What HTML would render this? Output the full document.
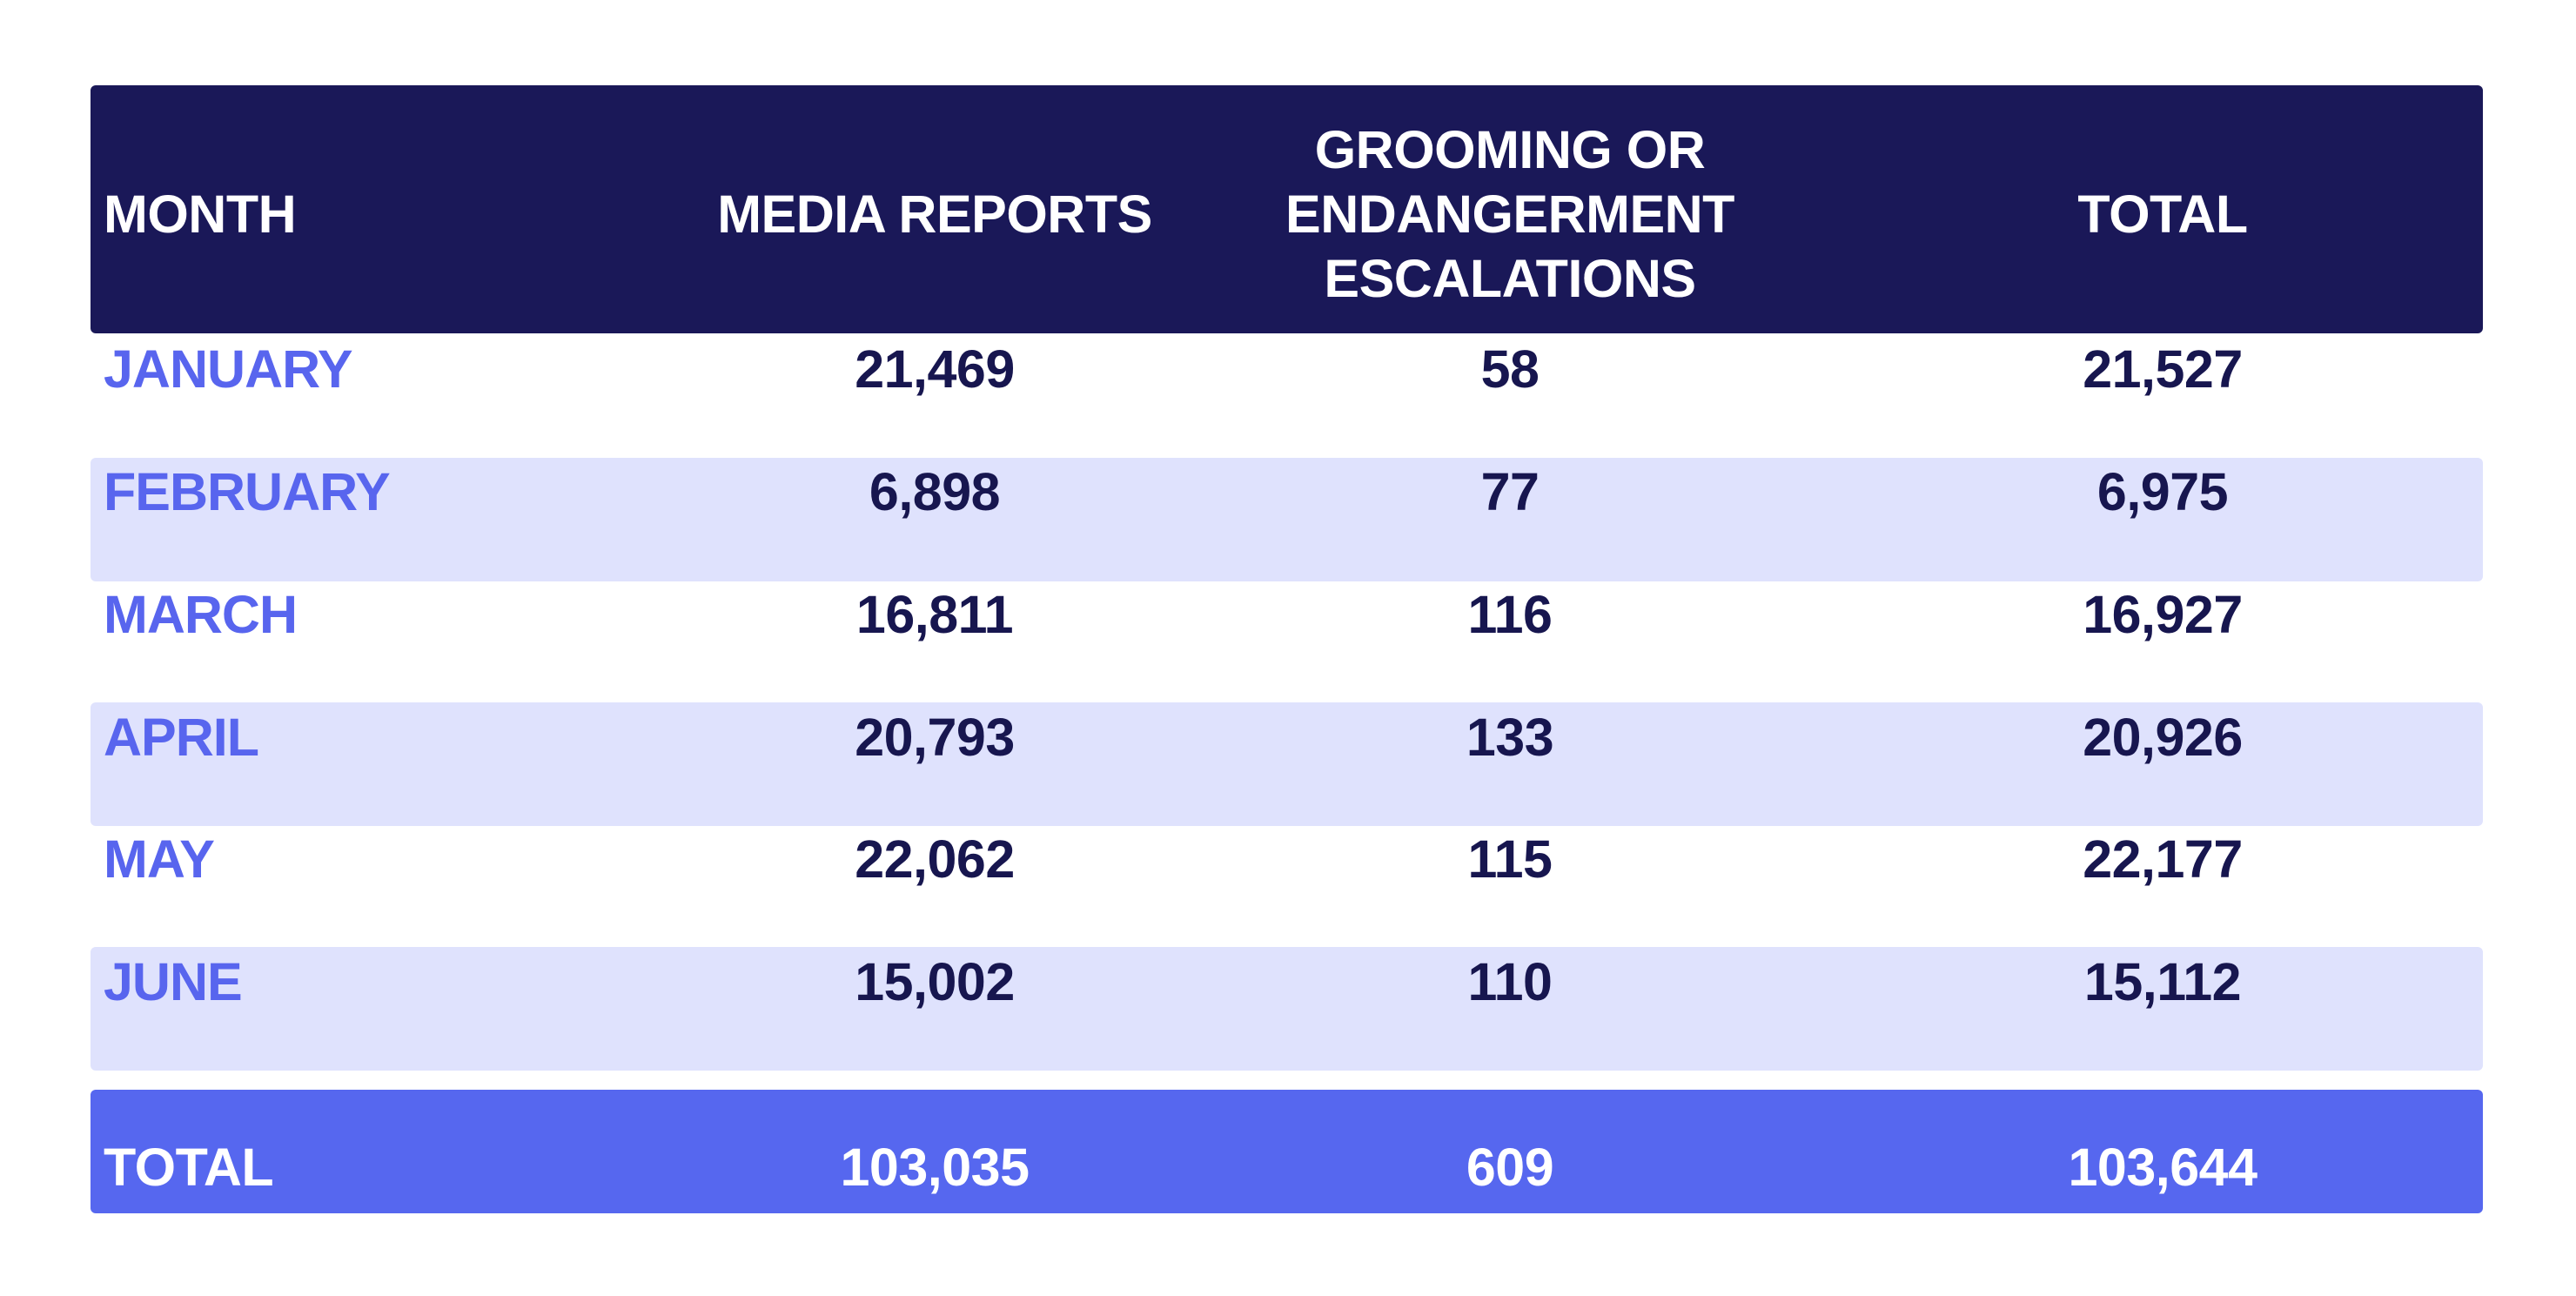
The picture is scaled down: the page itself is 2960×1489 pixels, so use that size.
<!DOCTYPE html>
<html><head><meta charset="utf-8"><style>
html,body{margin:0;padding:0;background:#fff;}
body{width:2960px;height:1489px;position:relative;overflow:hidden;font-family:"Liberation Sans",sans-serif;font-weight:bold;}
.box{position:absolute;left:104px;width:2749px;border-radius:6px;}
.t{position:absolute;font-size:61px;line-height:70px;height:70px;white-space:nowrap;letter-spacing:-0.5px;}
.c{transform:translateX(-50%);}
.h{color:#fff;}
.m{color:#5865ee;left:119px;letter-spacing:-1px;}
.n{color:#17164f;}
.w{color:#fff;}
</style></head><body>
<div class="box" style="top:98px;height:285px;background:#1a1858;"></div>
<div class="box" style="top:526px;height:142px;background:#dfe2fd;"></div>
<div class="box" style="top:807px;height:142px;background:#dfe2fd;"></div>
<div class="box" style="top:1088px;height:142px;background:#dfe2fd;"></div>
<div class="box" style="top:1252px;height:142px;background:#5667ef;"></div>

<div class="t h" style="left:119px;top:211px;">MONTH</div>
<div class="t h c" style="left:1074px;top:211px;">MEDIA REPORTS</div>
<div class="t h c" style="left:1735px;top:137px;">GROOMING OR</div>
<div class="t h c" style="left:1735px;top:211px;">ENDANGERMENT</div>
<div class="t h c" style="left:1735px;top:285px;">ESCALATIONS</div>
<div class="t h c" style="left:2485px;top:211px;">TOTAL</div>

<div class="t m" style="top:389px;">JANUARY</div>
<div class="t n c" style="left:1074px;top:389px;">21,469</div>
<div class="t n c" style="left:1735px;top:389px;">58</div>
<div class="t n c" style="left:2485px;top:389px;">21,527</div>

<div class="t m" style="top:530px;">FEBRUARY</div>
<div class="t n c" style="left:1074px;top:530px;">6,898</div>
<div class="t n c" style="left:1735px;top:530px;">77</div>
<div class="t n c" style="left:2485px;top:530px;">6,975</div>

<div class="t m" style="top:671px;">MARCH</div>
<div class="t n c" style="left:1074px;top:671px;">16,811</div>
<div class="t n c" style="left:1735px;top:671px;">116</div>
<div class="t n c" style="left:2485px;top:671px;">16,927</div>

<div class="t m" style="top:812px;">APRIL</div>
<div class="t n c" style="left:1074px;top:812px;">20,793</div>
<div class="t n c" style="left:1735px;top:812px;">133</div>
<div class="t n c" style="left:2485px;top:812px;">20,926</div>

<div class="t m" style="top:952px;">MAY</div>
<div class="t n c" style="left:1074px;top:952px;">22,062</div>
<div class="t n c" style="left:1735px;top:952px;">115</div>
<div class="t n c" style="left:2485px;top:952px;">22,177</div>

<div class="t m" style="top:1093px;">JUNE</div>
<div class="t n c" style="left:1074px;top:1093px;">15,002</div>
<div class="t n c" style="left:1735px;top:1093px;">110</div>
<div class="t n c" style="left:2485px;top:1093px;">15,112</div>

<div class="t w" style="left:119px;top:1306px;">TOTAL</div>
<div class="t w c" style="left:1074px;top:1306px;">103,035</div>
<div class="t w c" style="left:1735px;top:1306px;">609</div>
<div class="t w c" style="left:2485px;top:1306px;">103,644</div>
</body></html>
